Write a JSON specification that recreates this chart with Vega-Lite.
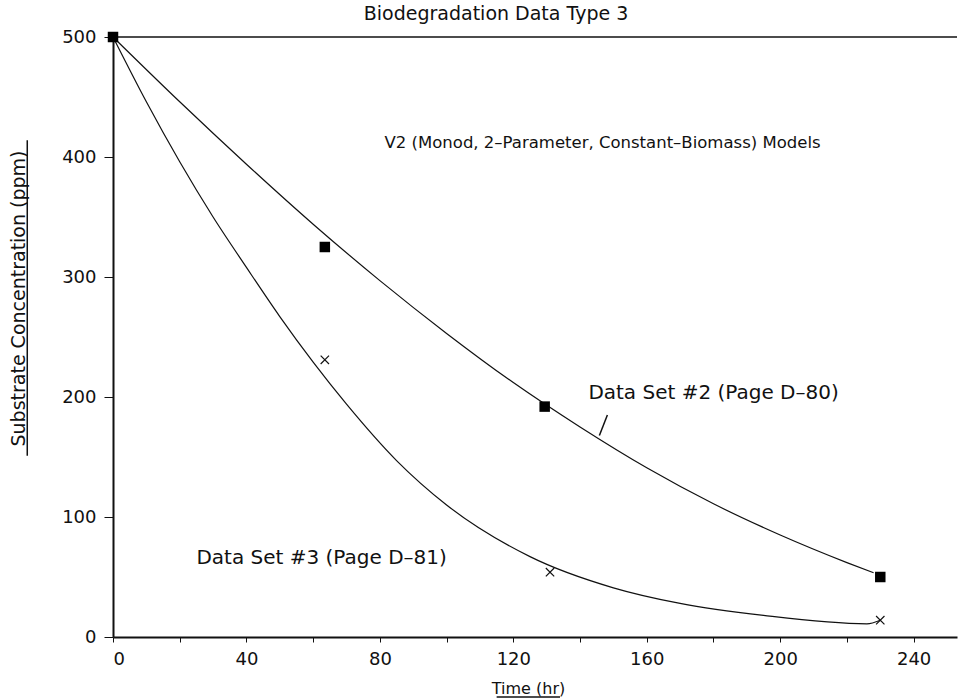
{
  "$schema": "https://vega.github.io/schema/vega-lite/v6.json",
  "autosize": {"type": "none"},
  "width": 844,
  "height": 600,
  "padding": {"left": 113, "top": 37, "right": 6, "bottom": 61},
  "background": "white",
  "config": {
    "view": {"stroke": null},
    "font": "DejaVu Sans",
    "axis": {"domainColor": "#111", "domainWidth": 2, "tickColor": "#111", "labelColor": "#111", "titleColor": "#111", "grid": false, "labelFont": "DejaVu Sans", "titleFont": "DejaVu Sans", "labelFontSize": 18, "titleFontWeight": "normal", "titleFontSize": 16}
  },
  "title": {"text": "Biodegradation Data Type 3", "fontSize": 19, "fontWeight": "normal", "color": "#111", "font": "DejaVu Sans", "anchor": "middle", "frame": "group", "dx": -39, "offset": 4},
  "datasets": {
    "curves": [
      {"series": "Data Set #2", "t": 0, "v": 500},
      {"series": "Data Set #2", "t": 20, "v": 446},
      {"series": "Data Set #2", "t": 40, "v": 394},
      {"series": "Data Set #2", "t": 60, "v": 344},
      {"series": "Data Set #2", "t": 80, "v": 297},
      {"series": "Data Set #2", "t": 100, "v": 253},
      {"series": "Data Set #2", "t": 120, "v": 212},
      {"series": "Data Set #2", "t": 140, "v": 175},
      {"series": "Data Set #2", "t": 160, "v": 141},
      {"series": "Data Set #2", "t": 180, "v": 111},
      {"series": "Data Set #2", "t": 200, "v": 85},
      {"series": "Data Set #2", "t": 220, "v": 62},
      {"series": "Data Set #2", "t": 228, "v": 53.5},
      {"series": "Data Set #3", "t": 0, "v": 500},
      {"series": "Data Set #3", "t": 10, "v": 446},
      {"series": "Data Set #3", "t": 20, "v": 396},
      {"series": "Data Set #3", "t": 30, "v": 350},
      {"series": "Data Set #3", "t": 40, "v": 308},
      {"series": "Data Set #3", "t": 50, "v": 267},
      {"series": "Data Set #3", "t": 60, "v": 229},
      {"series": "Data Set #3", "t": 70, "v": 194},
      {"series": "Data Set #3", "t": 85, "v": 147},
      {"series": "Data Set #3", "t": 100, "v": 110},
      {"series": "Data Set #3", "t": 125, "v": 67},
      {"series": "Data Set #3", "t": 150, "v": 41},
      {"series": "Data Set #3", "t": 170, "v": 28},
      {"series": "Data Set #3", "t": 195, "v": 18},
      {"series": "Data Set #3", "t": 226, "v": 11},
      {"series": "Data Set #3", "t": 230, "v": 14}
    ],
    "squares": [
      {"t": 0, "v": 500},
      {"t": 63.5, "v": 325},
      {"t": 129.4, "v": 192},
      {"t": 230, "v": 50}
    ],
    "crosses": [
      {"t": 63.5, "v": 231},
      {"t": 131, "v": 54},
      {"t": 230, "v": 14}
    ],
    "models": [
      {"label": "V2 (Monod, 2\u2013Parameter, Constant\u2013Biomass) Models", "t": 81.4, "v": 412}
    ],
    "sets": [
      {"label": "Data Set #2 (Page D\u201380)", "t": 142.5, "v": 203},
      {"label": "Data Set #3 (Page D\u201381)", "t": 25, "v": 66}
    ],
    "strokes": [
      {"t": 0, "v": 500, "t2": 253, "v2": 500},
      {"t": 148.2, "v": 185, "t2": 145.8, "v2": 168},
      {"t": -25.7, "v": 151, "t2": -25.7, "v2": 414},
      {"t": 115, "v": -50, "t2": 134, "v2": -50}
    ]
  },
  "layer": [
    {
      "data": {"name": "strokes"},
      "mark": {"type": "rule", "color": "#111", "strokeWidth": 1.5},
      "encoding": {
        "x": {"field": "t", "type": "quantitative", "scale": {"domain": [0, 253], "nice": false, "zero": false}},
        "y": {"field": "v", "type": "quantitative", "scale": {"domain": [0, 500], "nice": false}},
        "x2": {"field": "t2"},
        "y2": {"field": "v2"}
      }
    },
    {
      "data": {"name": "curves"},
      "mark": {"type": "line", "color": "#111", "strokeWidth": 1.2, "interpolate": "monotone"},
      "encoding": {
        "x": {"field": "t", "type": "quantitative", "scale": {"domain": [0, 253], "nice": false, "zero": false},
          "axis": {"values": [0, 20, 40, 60, 80, 100, 120, 140, 160, 180, 200, 220, 240], "labelExpr": "datum.value % 40 == 0 ? datum.label : ''", "title": "Time (hr)", "tickSize": 5, "labelPadding": 8, "titleX": 415, "titleY": 51, "titleBaseline": "middle", "titleAnchor": "middle", "titleAlign": "center"}},
        "y": {"field": "v", "type": "quantitative", "scale": {"domain": [0, 500], "nice": false},
          "axis": {"values": [0, 100, 200, 300, 400, 500], "title": "Substrate Concentration (ppm)", "titleFontSize": 19, "tickSize": 9, "labelPadding": 8, "titleX": -95, "titleY": 261, "titleAngle": -90, "titleBaseline": "middle", "titleAlign": "center", "titleAnchor": "middle"}},
        "detail": {"field": "series"}
      }
    },
    {
      "data": {"name": "squares"},
      "mark": {"type": "point", "shape": "square", "filled": true, "color": "#000", "size": 110, "opacity": 1},
      "encoding": {
        "x": {"field": "t", "type": "quantitative"},
        "y": {"field": "v", "type": "quantitative"}
      }
    },
    {
      "data": {"name": "crosses"},
      "mark": {"type": "point", "shape": "M-1,-1L1,1M-1,1L1,-1", "filled": false, "color": "#111", "size": 70, "strokeWidth": 1.2, "opacity": 1},
      "encoding": {
        "x": {"field": "t", "type": "quantitative"},
        "y": {"field": "v", "type": "quantitative"}
      }
    },
    {
      "data": {"name": "models"},
      "mark": {"type": "text", "align": "left", "baseline": "middle", "fontSize": 16.5, "font": "DejaVu Sans", "color": "#111"},
      "encoding": {
        "x": {"field": "t", "type": "quantitative"},
        "y": {"field": "v", "type": "quantitative"},
        "text": {"field": "label"}
      }
    },
    {
      "data": {"name": "sets"},
      "mark": {"type": "text", "align": "left", "baseline": "middle", "fontSize": 20, "font": "DejaVu Sans", "color": "#111"},
      "encoding": {
        "x": {"field": "t", "type": "quantitative"},
        "y": {"field": "v", "type": "quantitative"},
        "text": {"field": "label"}
      }
    }
  ]
}
